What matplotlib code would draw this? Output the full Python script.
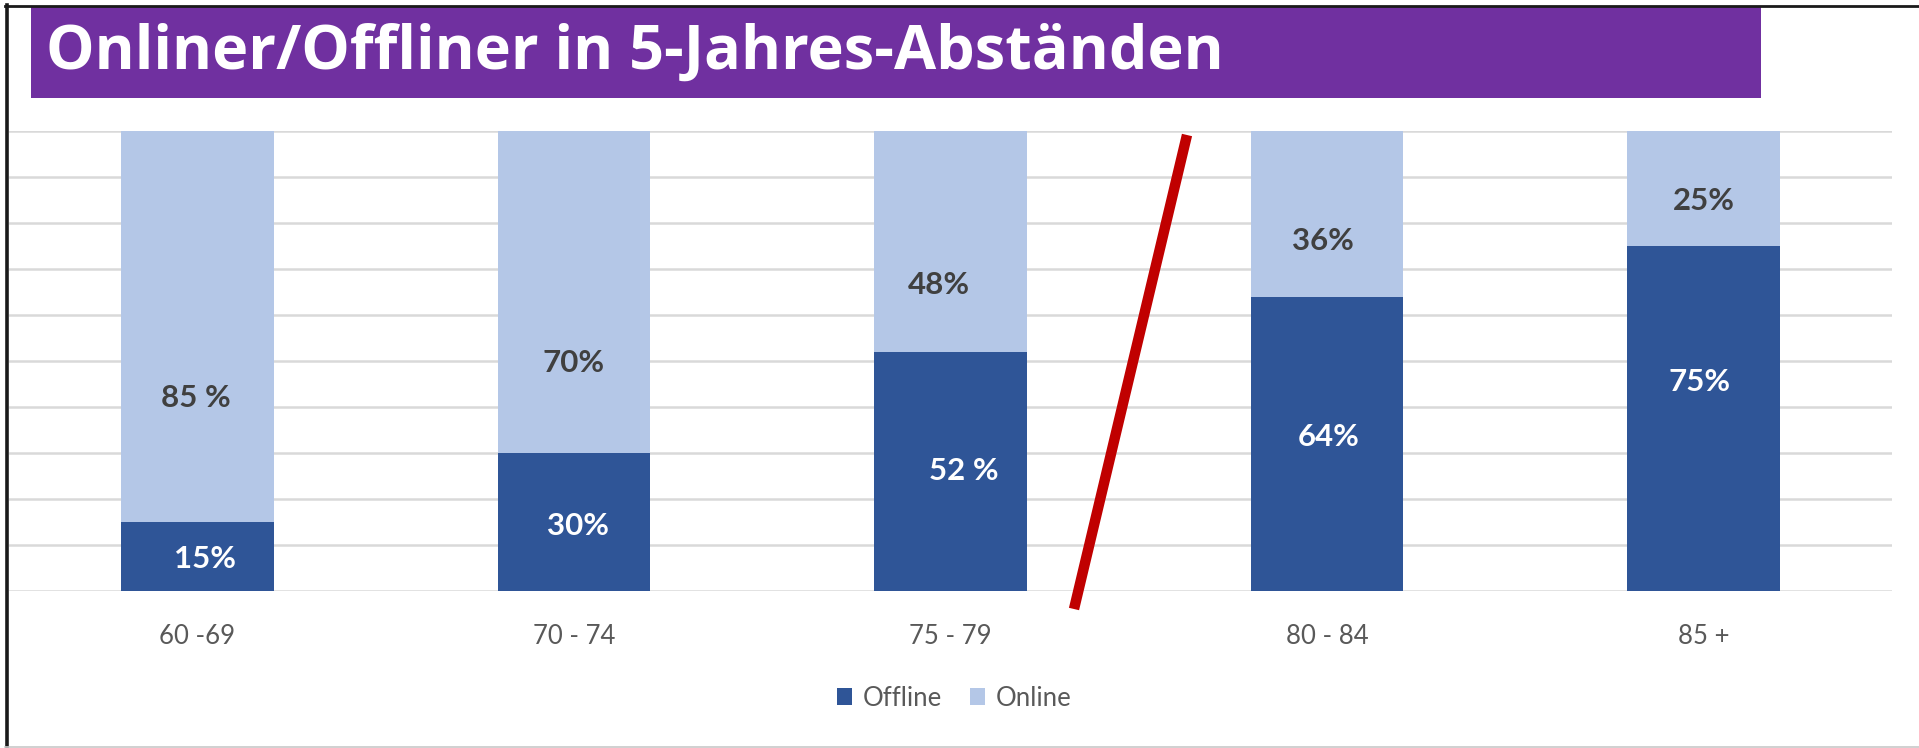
import matplotlib
matplotlib.use("Agg")
import matplotlib.pyplot as plt
from matplotlib.patches import Rectangle
from matplotlib.lines import Line2D

# ---- data ----
categories = ["60 -69", "70 - 74", "75 - 79", "80 - 84", "85 +"]
offline = [15, 30, 52, 64, 75]
online = [85, 70, 48, 36, 25]
offline_labels = ["15%", "30%", "52 %", "64%", "75%"]
online_labels = ["85 %", "70%", "48%", "36%", "25%"]
title = "Onliner/Offliner in 5-Jahres-Abständen"

# label placement (data units) as in the reference
offline_label_y = [6.9, 14.1, 26.0, 33.5, 45.5]
online_label_y = [42.0, 49.5, 66.5, 76.0, 84.8]
offline_label_dx = [0.02, 0.01, 0.036, 0.005, -0.01]
online_label_dx = [-0.005, 0.0, -0.03, -0.01, 0.0]

W, H = 1919, 748
fig = plt.figure(figsize=(W / 100, H / 100), dpi=100)
fig.patch.set_facecolor("white")

def fx(px):
    return px / W

def fy(py):
    return (H - py) / H

DARK = "#2F5597"
LIGHT = "#B4C7E7"
GRID = "#D9D9D9"

ax = fig.add_axes([fx(9), fy(591), fx(1892) - fx(9), fy(131) - fy(591)])
x = list(range(len(categories)))
ax.bar(x, offline, width=0.405, color=DARK, zorder=3, label="Offline")
ax.bar(x, online, width=0.405, bottom=offline, color=LIGHT, zorder=3, label="Online")

ax.set_xlim(-0.5, 4.5)
ax.set_ylim(0, 100)
ax.set_yticks(range(0, 101, 10))
ax.yaxis.grid(True, color=GRID, linewidth=1.8, zorder=0)
ax.set_axisbelow(True)
ax.tick_params(axis="y", left=False, labelleft=False)
ax.tick_params(axis="x", bottom=False, pad=20)
ax.set_xticks(x)
ax.set_xticklabels(categories, fontfamily="Lato", fontsize=18.5, color="#595959")
for s in ax.spines.values():
    s.set_visible(False)

for i in x:
    ax.text(i + offline_label_dx[i], offline_label_y[i], offline_labels[i],
            ha="center", va="center", color="white", fontsize=22.5,
            fontweight="bold", fontfamily="Lato", zorder=5)
    ax.text(i + online_label_dx[i], online_label_y[i], online_labels[i],
            ha="center", va="center", color="#404040", fontsize=22.5,
            fontweight="bold", fontfamily="Lato", zorder=5)

leg = fig.legend(loc="center", bbox_to_anchor=(fx(954), fy(698)), ncol=2,
                 frameon=False, prop={"family": "Lato", "size": 18.5},
                 handlelength=0.6, handleheight=0.65, handletextpad=0.4,
                 columnspacing=1.1)
for t in leg.get_texts():
    t.set_color("#595959")

# title box
fig.patches.append(Rectangle((fx(31), fy(98)), fx(1761) - fx(31), fy(7) - fy(98),
                             transform=fig.transFigure, facecolor="#7030A0",
                             edgecolor="none", zorder=1))
fig.text(fx(46), fy(69), title, color="white", fontsize=44, fontweight="bold",
         fontfamily="Open Sans", ha="left", va="baseline", zorder=2)

# frame lines
fig.add_artist(Line2D([fx(7), fx(7)], [fy(5), fy(747)], transform=fig.transFigure,
                      color="#1a1a1a", linewidth=2.6))
fig.add_artist(Line2D([fx(5), fx(1919)], [fy(5.5), fy(5.5)], transform=fig.transFigure,
                      color="#1a1a1a", linewidth=2.0))
fig.add_artist(Line2D([fx(5), fx(1919)], [fy(747), fy(747)], transform=fig.transFigure,
                      color="#C8C8C8", linewidth=1.2))

# red slash
fig.add_artist(Line2D([fx(1074), fx(1187)], [fy(609), fy(135)], transform=fig.transFigure,
                      color="#C00000", linewidth=7.5, solid_capstyle="butt", zorder=10))

fig.savefig("out.png", dpi=100, facecolor="white")
